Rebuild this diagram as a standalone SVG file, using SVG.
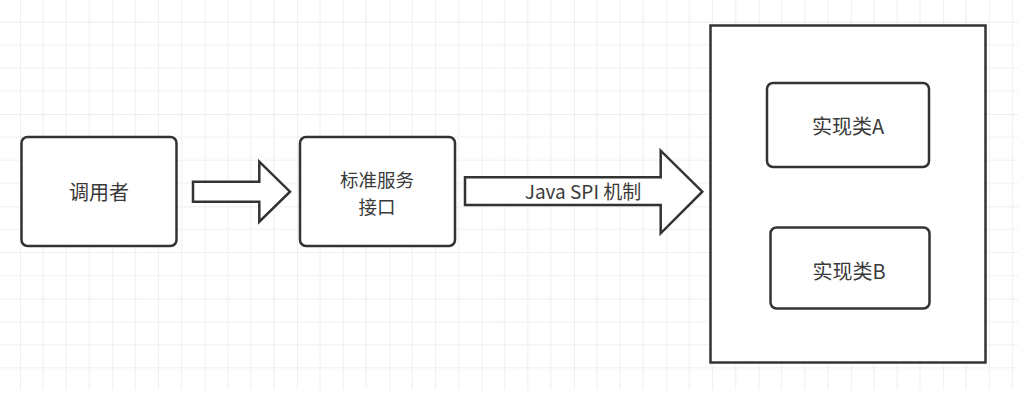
<svg xmlns="http://www.w3.org/2000/svg" width="1018" height="400" viewBox="0 0 1018 400">
  <style>
    .box { fill: #ffffff; stroke: #333333; stroke-width: 2.5; }
    .arrow { fill: #ffffff; stroke: #333333; stroke-width: 2.5; stroke-linejoin: miter; }
    .lbl { font-family: 'Noto Sans CJK SC', 'Noto Sans', sans-serif; font-size: 20px; fill: #3a3a3a; text-anchor: middle; }
    .lbl2 { font-family: 'Noto Sans CJK SC', 'Noto Sans', sans-serif; font-size: 18.5px; fill: #3a3a3a; text-anchor: middle; }
    .arrowlbl { font-family: 'Noto Sans CJK SC', 'Noto Sans', sans-serif; font-size: 19px; fill: #3a3a3a; text-anchor: middle; }
  </style>
  <defs>
    <pattern id="grid" patternUnits="userSpaceOnUse" x="20" y="21.7" width="92.32" height="92.32">
      <path d="M23.08 0V92.32M46.16 0V92.32M69.24 0V92.32M0 23.08H92.32M0 46.16H92.32M0 69.24H92.32" stroke="#f0f0f0" stroke-width="1.2" fill="none"/>
      <path d="M0 0V92.32M0 0H92.32" stroke="#e8e8e8" stroke-width="1.4" fill="none"/>
    </pattern>
  </defs>
  <rect x="0" y="0" width="1018" height="400" fill="#ffffff"/>
  <rect x="0" y="0" width="1018" height="390" fill="url(#grid)"/>

  <g id="connectors">
    <polygon class="arrow" points="193,181.7 259.3,181.7 259.3,161.7 290,191.7 259.3,221.7 259.3,201.7 193,201.7"/>
    <polygon class="arrow" points="465,177.3 660.7,177.3 660.7,150.7 702.3,191.7 660.7,233.3 660.7,205 465,205"/>
    <text class="arrowlbl" x="583" y="198.5">Java SPI 机制</text>
  </g>

  <g id="caller">
    <rect class="box" x="21.5" y="137" width="155" height="109" rx="6"/>
    <text class="lbl" x="99" y="199.5">调用者</text>
  </g>

  <g id="interface">
    <rect class="box" x="300" y="137" width="155" height="109" rx="6"/>
    <text class="lbl2" x="377" y="187"><tspan x="377" y="187">标准服务</tspan><tspan x="377" y="214">接口</tspan></text>
  </g>

  <g id="container">
    <rect class="box" x="710.5" y="25.5" width="275" height="337" stroke-width="3"/>
  </g>

  <g id="implA">
    <rect class="box" x="767" y="83" width="162" height="84" rx="6"/>
    <text class="lbl" x="848" y="133.5">实现类A</text>
  </g>

  <g id="implB">
    <rect class="box" x="770.5" y="227.5" width="159" height="81" rx="6"/>
    <text class="lbl" x="849" y="278.5">实现类B</text>
  </g>
</svg>
